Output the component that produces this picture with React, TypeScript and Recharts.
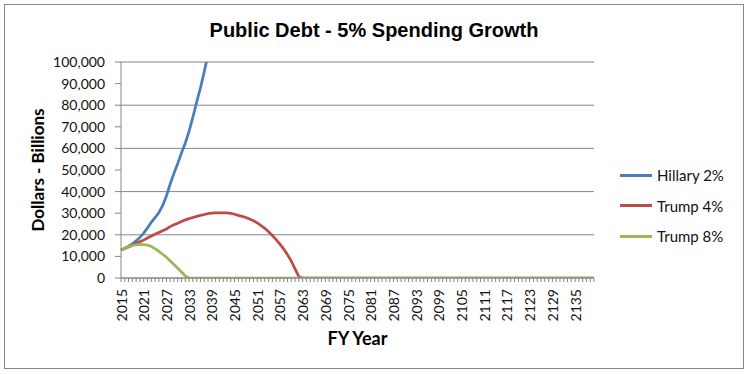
import { LineChart, Line, XAxis, YAxis, CartesianGrid } from 'recharts'

const years: number[] = []
for (let y = 2015; y <= 2140; y++) years.push(y)

// values in $ billions
const hillary2 = [
  13000, 13800, 14700, 15800, 17200, 18800, 20800, 23200, 25800, 28000,
  30200, 33500, 38000, 43500, 48500, 53000, 58000, 62500, 68000, 74500,
  81500, 88000, 95500, 103500, 112000, 121000,
]

const trump4 = [
  13000, 13700, 14400, 15200, 16000, 16800, 17600, 18500, 19400, 20300,
  21100, 21900, 22700, 23800, 24600, 25400, 26200, 26900, 27500, 28000,
  28500, 29000, 29400, 29800, 30000, 30100, 30200, 30200, 30100, 29900,
  29500, 29000, 28500, 28000, 27300, 26500, 25500, 24300, 23000, 21400,
  19700, 17800, 15700, 13400, 10800, 7800, 4200, 600, 0,
]

const trump8 = [
  13000, 13800, 14500, 15000, 15400, 15600, 15500, 15200, 14600, 13600,
  12300, 11000, 9600, 7900, 6200, 4500, 2800, 1000, 0,
]

const yTicks = [0, 10000, 20000, 30000, 40000, 50000, 60000, 70000, 80000, 90000, 100000]

const seriesInfo = [
  { key: 'hillary', name: 'Hillary 2%', color: '#4A7EBB' },
  { key: 'trump4', name: 'Trump 4%', color: '#BE4B48' },
  { key: 'trump8', name: 'Trump 8%', color: '#98B954' },
]

const data = years.map((year, i) => ({
  year,
  hillary: i < hillary2.length ? hillary2[i] : null,
  trump4: i < trump4.length ? trump4[i] : 0,
  trump8: i < trump8.length ? trump8[i] : 0,
}))

const tickFont = 'Lato, "Open Sans", sans-serif'

const YearTick = (props: any) => {
  const { x, y, payload } = props
  if ((payload.value - 2015) % 6 !== 0) return <g />
  return (
    <text
      x={x}
      y={y}
      transform={`rotate(-90, ${x}, ${y})`}
      textAnchor="end"
      dominantBaseline="central"
      fontFamily={tickFont}
      fontSize={14}
      fill="#111"
    >
      {payload.value}
    </text>
  )
}

const App = () => {
  return (
    <div style={{ position: 'absolute', left: 0, top: 0, width: 748, height: 374, background: '#fff' }}>
      <div style={{ position: 'absolute', left: 4, top: 4, width: 738, height: 363, border: '1px solid #868686' }} />
      <LineChart
        width={748}
        height={374}
        data={data}
        margin={{ top: 62, right: 154, bottom: 36, left: 51 }}
        style={{ position: 'absolute', left: 0, top: 0 }}
      >
        <CartesianGrid vertical={false} stroke="#868686" strokeWidth={1} />
        <XAxis
          dataKey="year"
          interval={0}
          height={60}
          tickSize={4}
          tickMargin={7}
          tick={<YearTick />}
          axisLine={{ stroke: '#868686' }}
          tickLine={{ stroke: '#868686' }}
        />
        <YAxis
          width={70}
          domain={[0, 100000]}
          ticks={yTicks}
          allowDataOverflow
          tickSize={6}
          tickMargin={10}
          tickFormatter={(v: number) => v.toLocaleString('en-US')}
          tick={{ fontFamily: tickFont, fontSize: 14, fill: '#111' }}
          axisLine={{ stroke: '#868686' }}
          tickLine={{ stroke: '#868686' }}
        />
        {seriesInfo.map((s) => (
          <Line
            key={s.key}
            type="linear"
            dataKey={s.key}
            name={s.name}
            stroke={s.color}
            strokeWidth={2.75}
            dot={false}
            isAnimationActive={false}
          />
        ))}
      </LineChart>
      <div style={{ position: 'absolute', left: 0, width: 748, top: 17, textAlign: 'center', fontFamily: '"Liberation Sans", Arial, sans-serif', fontWeight: 'bold', fontSize: 20, lineHeight: '26px', color: '#000' }}>
        Public Debt - 5% Spending Growth
      </div>
      <div style={{ position: 'absolute', left: 37, top: 170, width: 0, height: 0 }}>
        <div style={{ position: 'absolute', transform: 'translate(-50%, -50%) rotate(-90deg)', whiteSpace: 'nowrap', fontFamily: tickFont, fontWeight: 'bold', fontSize: 17, color: '#000' }}>
          Dollars - Billions
        </div>
      </div>
      <div style={{ position: 'absolute', left: 121, width: 473, top: 327, textAlign: 'center', fontFamily: tickFont, fontWeight: 'bold', fontSize: 18, lineHeight: '22px', color: '#000' }}>
        FY Year
      </div>
      <div style={{ position: 'absolute', left: 620, top: 160 }}>
        {seriesInfo.map((s) => (
          <div key={s.key} style={{ display: 'flex', alignItems: 'center', height: 30.5, fontFamily: tickFont, fontSize: 15, color: '#111' }}>
            <div style={{ width: 32, height: 3, background: s.color, marginRight: 5 }} />
            <span>{s.name}</span>
          </div>
        ))}
      </div>
    </div>
  )
}

export default App
